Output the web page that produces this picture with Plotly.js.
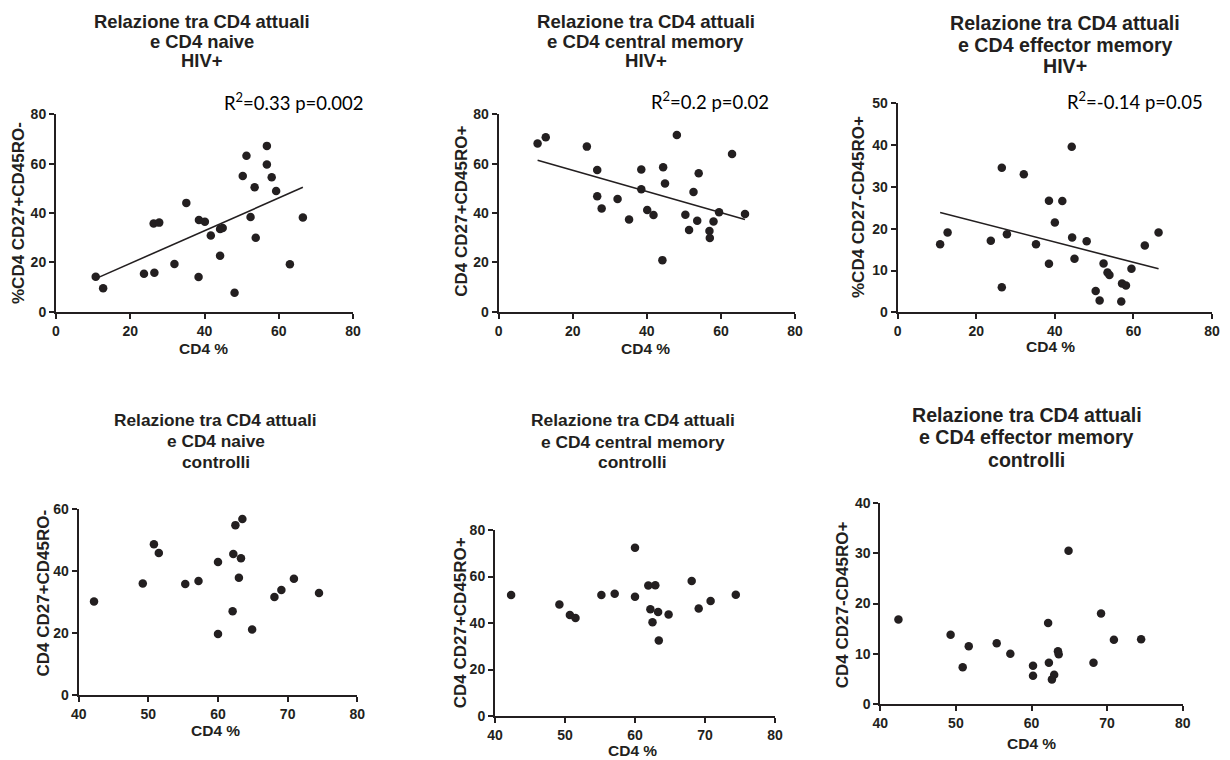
<!DOCTYPE html>
<html>
<head>
<meta charset="utf-8">
<script src="https://cdn.plot.ly/plotly-3.0.1.min.js"></script>
<style>html,body{margin:0;padding:0;background:#fff;}#chart{width:1230px;height:760px;}</style>
</head>
<body>
<div id="chart"></div>
<script>
// ---------- DATA ----------
// HIV+ : CD4 % vs naive
const hivNaiveX = [10.7,12.7,23.7,26.5,26.3,27.8,31.9,35.1,38.4,38.5,40.1,41.7,44.2,44.2,44.9,48.1,50.3,51.3,52.4,53.5,53.8,56.8,56.8,58.1,59.3,63.0,66.5];
const hivNaiveY = [14.2,9.5,15.4,15.8,35.7,36.1,19.3,44.1,14.1,37.2,36.5,30.9,22.7,33.5,33.9,7.7,55.0,63.2,38.4,50.4,30.0,67.2,59.7,54.5,48.9,19.2,38.2];
const hivNaiveFitX = [10.7,66.5];
const hivNaiveFitY = [13.4,50.4];
// HIV+ : CD4 % vs central memory
const hivCentralX = [10.5,12.7,23.8,26.6,26.6,27.8,32.1,35.2,38.5,38.5,40.1,41.8,44.4,44.9,44.2,48.1,50.4,51.4,52.6,53.6,54.0,56.9,57.0,58.0,59.5,63.0,66.5];
const hivCentralY = [68.2,70.7,66.9,57.4,46.8,41.8,45.7,37.4,57.6,49.6,41.2,39.2,58.5,52.0,20.9,71.6,39.3,33.1,48.5,36.9,56.1,32.7,29.9,36.6,40.3,63.9,39.6];
const hivCentralFitX = [10.5,66.5];
const hivCentralFitY = [61.4,37.4];
// HIV+ : CD4 % vs effector memory
const hivEffectorX = [10.8,12.7,23.7,26.5,26.5,27.8,32.1,35.2,38.5,38.5,40.0,41.9,44.3,44.4,45.0,48.1,50.4,51.4,52.4,53.4,53.9,57.1,56.9,58.1,59.5,62.9,66.4];
const hivEffectorY = [16.3,19.1,17.1,34.6,6.0,18.7,33.0,16.3,26.7,11.6,21.5,26.6,39.6,17.9,12.8,17.0,5.1,2.8,11.7,9.5,8.9,6.9,2.6,6.4,10.4,16.0,19.1];
const hivEffectorFitX = [10.8,66.4];
const hivEffectorFitY = [23.9,10.4];
// Controls
const ctrlNaiveX = [42.2,49.2,50.8,51.5,55.3,57.2,60.0,60.0,62.1,62.2,62.5,63.0,63.3,63.5,64.9,68.1,69.1,70.9,74.5];
const ctrlNaiveY = [30.1,35.9,48.5,45.7,35.7,36.7,42.8,19.6,26.9,45.4,54.7,37.7,44.0,56.7,21.0,31.5,33.8,37.4,32.8];
const ctrlCentralX = [42.3,49.2,50.7,51.5,55.2,57.1,60.0,60.0,61.9,62.9,62.2,62.5,63.3,63.4,64.8,68.1,69.1,70.8,74.4];
const ctrlCentralY = [52.0,48.0,43.4,42.2,52.0,52.6,72.4,51.3,56.1,56.2,45.9,40.3,44.7,32.5,43.7,58.1,46.2,49.5,52.2];
const ctrlEffectorX = [42.4,49.3,50.9,51.7,55.4,57.2,60.2,60.2,62.2,62.3,62.7,63.0,63.5,63.6,64.9,68.2,69.2,70.9,74.5];
const ctrlEffectorY = [16.8,13.8,7.3,11.5,12.1,10.0,7.6,5.6,16.1,8.2,4.9,5.8,10.5,9.9,30.5,8.2,18.0,12.8,12.9];

const titles = [
  ["Relazione tra CD4 attuali","e CD4 naive","HIV+"],
  ["Relazione tra CD4 attuali","e CD4 central memory","HIV+"],
  ["Relazione tra CD4 attuali","e CD4 effector memory","HIV+"],
  ["Relazione tra CD4 attuali","e CD4 naive","controlli"],
  ["Relazione tra CD4 attuali","e CD4 central memory","controlli"],
  ["Relazione tra CD4 attuali","e CD4 effector memory","controlli"]
];
const yTitles = ["%CD4 CD27+CD45RO-","CD4 CD27+CD45RO+","%CD4 CD27-CD45RO+","CD4 CD27+CD45RO-","CD4 CD27+CD45RO+","CD4 CD27-CD45RO+"];
const xTitle = "CD4 %";
const statTexts = ["R<sup>2</sup>=0.33 p=0.002","R<sup>2</sup>=0.2 p=0.02","R<sup>2</sup>=-0.14 p=0.05"];

// ---------- LAYOUT GEOMETRY (pixels) ----------
const W = 1230, H = 760;
const px = v => v / W, py = v => 1 - v / H;
const panels = [
  {x:[56,353],     y:[114.3,311.7], xr:[0,80],  xt:20, yr:[0,80], yt:20, title:{x:201.5, ys:[21,42,61], size:18.4}, xl:[203,348],    yl:[19,213],    stat:[294,101.5]},
  {x:[498.7,795],  y:[114.3,311.7], xr:[0,80],  xt:20, yr:[0,80], yt:20, title:{x:646, ys:[21,41.5,61], size:18.6},   xl:[645,348],    yl:[460.7,211], stat:[709.7,100.5]},
  {x:[897.7,1212], y:[103.3,312.3], xr:[0,80],  xt:20, yr:[0,50], yt:10, title:{x:1065, ys:[23,45,66], size:19.6},    xl:[1050.7,347], yl:[858.3,206.7], stat:[1135,100.5]},
  {x:[78.7,357.3], y:[508.7,694.7], xr:[40,80], xt:10, yr:[0,60], yt:20, title:{x:215.8, ys:[420,441,462], size:17.3}, xl:[215.7,730], yl:[43.3,593.3]},
  {x:[495,775],    y:[530,716],     xr:[40,80], xt:10, yr:[0,80], yt:20, title:{x:632.8, ys:[420,441.7,461.7], size:17.4}, xl:[632.7,750], yl:[460,623.3]},
  {x:[880.3,1182.7], y:[503,704],   xr:[40,80], xt:10, yr:[0,40], yt:10, title:{x:1026.7, ys:[415,437.3,460], size:19.6}, xl:[1031.7,743.3], yl:[842.3,605]}
];

const seriesX = [hivNaiveX, hivCentralX, hivEffectorX, ctrlNaiveX, ctrlCentralX, ctrlEffectorX];
const seriesY = [hivNaiveY, hivCentralY, hivEffectorY, ctrlNaiveY, ctrlCentralY, ctrlEffectorY];
const fits = [[hivNaiveFitX,hivNaiveFitY],[hivCentralFitX,hivCentralFitY],[hivEffectorFitX,hivEffectorFitY]];

const ink = '#231f20';
const boldFont = {family:'Liberation Sans, Arial, sans-serif', color:ink, weight:'bold'};

const traces = [];
const layout = {
  width: W, height: H,
  margin: {l:0, r:0, t:0, b:0},
  paper_bgcolor: '#ffffff', plot_bgcolor: '#ffffff',
  showlegend: false,
  annotations: []
};

panels.forEach((p, i) => {
  const n = i === 0 ? '' : String(i + 1);
  const xa = 'x' + n, ya = 'y' + n;
  traces.push({
    type: 'scatter', mode: 'markers', x: seriesX[i], y: seriesY[i],
    xaxis: xa, yaxis: ya, cliponaxis: false,
    marker: {color: ink, size: 8.5, line: {width: 0}}
  });
  if (i < 3) {
    traces.push({
      type: 'scatter', mode: 'lines', x: fits[i][0], y: fits[i][1],
      xaxis: xa, yaxis: ya, line: {color: ink, width: 1.6}
    });
  }
  const axisCommon = {
    showline: true, linecolor: ink, linewidth: 2,
    ticks: 'outside', ticklen: 5, tickwidth: 2, tickcolor: ink,
    showgrid: false, zeroline: false, fixedrange: true,
    tickfont: Object.assign({size: 14}, boldFont)
  };
  layout['xaxis' + n] = Object.assign({}, axisCommon, {
    domain: [px(p.x[0]), px(p.x[1])], anchor: ya,
    range: p.xr, tick0: p.xr[0], dtick: p.xt, tickmode: 'linear'
  });
  layout['yaxis' + n] = Object.assign({}, axisCommon, {
    domain: [py(p.y[1]), py(p.y[0])], anchor: xa,
    range: p.yr, tick0: 0, dtick: p.yt, tickmode: 'linear', ticklabelstandoff: 0
  });
  // titles, line by line
  titles[i].forEach((t, k) => {
    layout.annotations.push({
      xref: 'paper', yref: 'paper', x: px(p.title.x), y: py(p.title.ys[k]),
      xanchor: 'center', yanchor: 'middle', showarrow: false,
      text: t, font: Object.assign({size: p.title.size}, boldFont)
    });
  });
  // x axis title
  layout.annotations.push({
    xref: 'paper', yref: 'paper', x: px(p.xl[0]), y: py(p.xl[1]),
    xanchor: 'center', yanchor: 'middle', showarrow: false,
    text: xTitle, font: Object.assign({size: 15.5}, boldFont)
  });
  // y axis title
  layout.annotations.push({
    xref: 'paper', yref: 'paper', x: px(p.yl[0]), y: py(p.yl[1]),
    xanchor: 'center', yanchor: 'middle', showarrow: false, textangle: -90,
    text: yTitles[i], font: Object.assign({size: 17}, boldFont)
  });
  if (p.stat) {
    layout.annotations.push({
      xref: 'paper', yref: 'paper', x: px(p.stat[0]), y: py(p.stat[1]),
      xanchor: 'center', yanchor: 'middle', showarrow: false,
      text: statTexts[i], bgcolor: '#ffffff',
      font: {family: 'Lato, Carlito, sans-serif', size: 18.5, color: '#000'}
    });
  }
});

Plotly.newPlot('chart', traces, layout, {staticPlot: true, displayModeBar: false});
</script>
</body>
</html>
